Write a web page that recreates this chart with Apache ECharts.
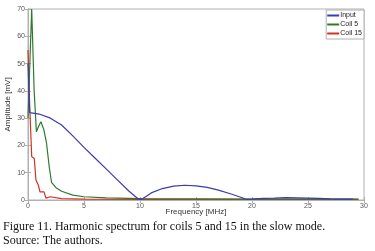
<!DOCTYPE html>
<html>
<head>
<meta charset="utf-8">
<script src="https://cdn.jsdelivr.net/npm/echarts@6/dist/echarts.min.js"></script>
<style>
  html, body { margin: 0; padding: 0; background: #fff; }
  #chart { width: 375px; height: 251px; }
</style>
</head>
<body>
<div id="chart"></div>
<script>
// frequency [MHz] / amplitude [mV]
const inputFreq = [0, 0.15, 1, 2, 3, 4, 5, 6, 7, 8, 9, 9.9, 10.2, 11, 12, 13, 14, 15, 16, 17, 18, 19, 19.5, 20, 21, 22, 23, 24, 25, 26, 27, 28, 29];
const inputAmp = [50, 32, 31.5, 30, 27.5, 23.5, 19.3, 15.3, 11.3, 7.3, 3.3, 0.2, 0.4, 2.6, 4.2, 5.1, 5.4, 5.2, 4.6, 3.6, 2.4, 1, 0.2, 0.3, 0.6, 0.7, 0.9, 0.8, 0.7, 0.6, 0.4, 0.3, 0.3];

const coil5Freq = [0, 0.33, 0.55, 0.75, 0.95, 1.15, 1.4, 1.65, 1.9, 2.1, 2.5, 3, 4, 5, 7, 10, 15, 20, 25, 29.5];
const coil5Amp = [30, 70, 40, 25, 27, 28.7, 26, 21, 12, 6.5, 4.5, 3.2, 1.8, 1.2, 0.8, 0.5, 0.4, 0.3, 0.3, 0.3];

const coil15Freq = [0, 0.15, 0.33, 0.56, 0.71, 0.92, 1.07, 1.43, 1.6, 2, 3, 5, 10, 20, 29.5];
const coil15Amp = [55, 35, 15.9, 15.2, 7.3, 5.5, 3, 3, 0.7, 1.2, 0.5, 0.3, 0.2, 0.2, 0.2];

const seriesNames = ['Input', 'Coil 5', 'Coil 15'];
const seriesColors = ['#3b3bb0', '#2f7a2f', '#d2321e'];

const pairs = (xs, ys) => xs.map((x, i) => [x, ys[i]]);
const seriesData = [
  pairs(inputFreq, inputAmp),
  pairs(coil5Freq, coil5Amp),
  pairs(coil15Freq, coil15Amp)
];

const chart = echarts.init(document.getElementById('chart'));
const tickFont = { fontFamily: 'Liberation Sans, Arial', fontSize: 7, color: '#555' };
const axisLineStyle = { color: '#b0b0b0', width: 1 };

chart.setOption({
  animation: false,
  textStyle: { fontFamily: 'Liberation Sans, Arial' },
  grid: {
    left: 28, right: 11, top: 9, bottom: 51,
    containLabel: false, outerBoundsMode: 'none',
    show: true, borderColor: '#b0b0b0', borderWidth: 1
  },
  legend: {
    data: seriesNames,
    orient: 'vertical',
    right: 11, top: 10,
    itemWidth: 12, itemHeight: 2, itemGap: 2,
    padding: [2, 2, 2, 1],
    icon: 'rect',
    backgroundColor: '#fff',
    borderColor: '#b0b0b0', borderWidth: 1, borderRadius: 0,
    textStyle: { fontSize: 7, color: '#222', padding: [0, 0, 0, -4] }
  },
  xAxis: [{
    type: 'value', min: 0, max: 30, interval: 5,
    name: 'Frequency [MHz]', nameLocation: 'middle', nameGap: 8,
    nameMoveOverlap: false,
    nameTextStyle: { fontSize: 8, color: '#333' },
    axisLine: { lineStyle: axisLineStyle },
    axisTick: { inside: true, length: 3, lineStyle: axisLineStyle },
    axisLabel: Object.assign({ margin: 3 }, tickFont),
    splitLine: { show: false }
  }, {
    type: 'value', min: 0, max: 30, interval: 5, position: 'top',
    axisLine: { lineStyle: axisLineStyle },
    axisTick: { inside: true, length: 3, lineStyle: axisLineStyle },
    axisLabel: { show: false },
    splitLine: { show: false }
  }],
  yAxis: [{
    type: 'value', min: 0, max: 70, interval: 10,
    name: 'Amplitude [mV]', nameLocation: 'middle', nameGap: 16,
    nameMoveOverlap: false,
    nameTextStyle: { fontSize: 8, color: '#333' },
    axisLine: { show: true, lineStyle: axisLineStyle },
    axisTick: { show: true, inside: true, length: 3, lineStyle: axisLineStyle },
    axisLabel: Object.assign({ margin: 3 }, tickFont),
    splitLine: { show: false }
  }, {
    type: 'value', min: 0, max: 70, interval: 10, position: 'right',
    axisLine: { show: true, lineStyle: axisLineStyle },
    axisTick: { show: true, inside: true, length: 3, lineStyle: axisLineStyle },
    axisLabel: { show: false },
    splitLine: { show: false }
  }],
  series: seriesNames.map((name, i) => ({
    name: name,
    type: 'line',
    data: seriesData[i],
    showSymbol: false,
    symbol: 'none',
    color: seriesColors[i],
    lineStyle: { width: 1.2, color: seriesColors[i] },
    z: 3 - i
  })),
  graphic: [{
    type: 'text', left: 3, top: 221,
    style: {
      text: 'Figure 11. Harmonic spectrum for coils 5 and 15 in the slow mode.',
      font: '12px "Liberation Serif", "Times New Roman", serif', fill: '#111'
    }
  }, {
    type: 'text', left: 3, top: 235,
    style: {
      text: 'Source: The authors.',
      font: '12px "Liberation Serif", "Times New Roman", serif', fill: '#111'
    }
  }]
});
</script>
</body>
</html>
